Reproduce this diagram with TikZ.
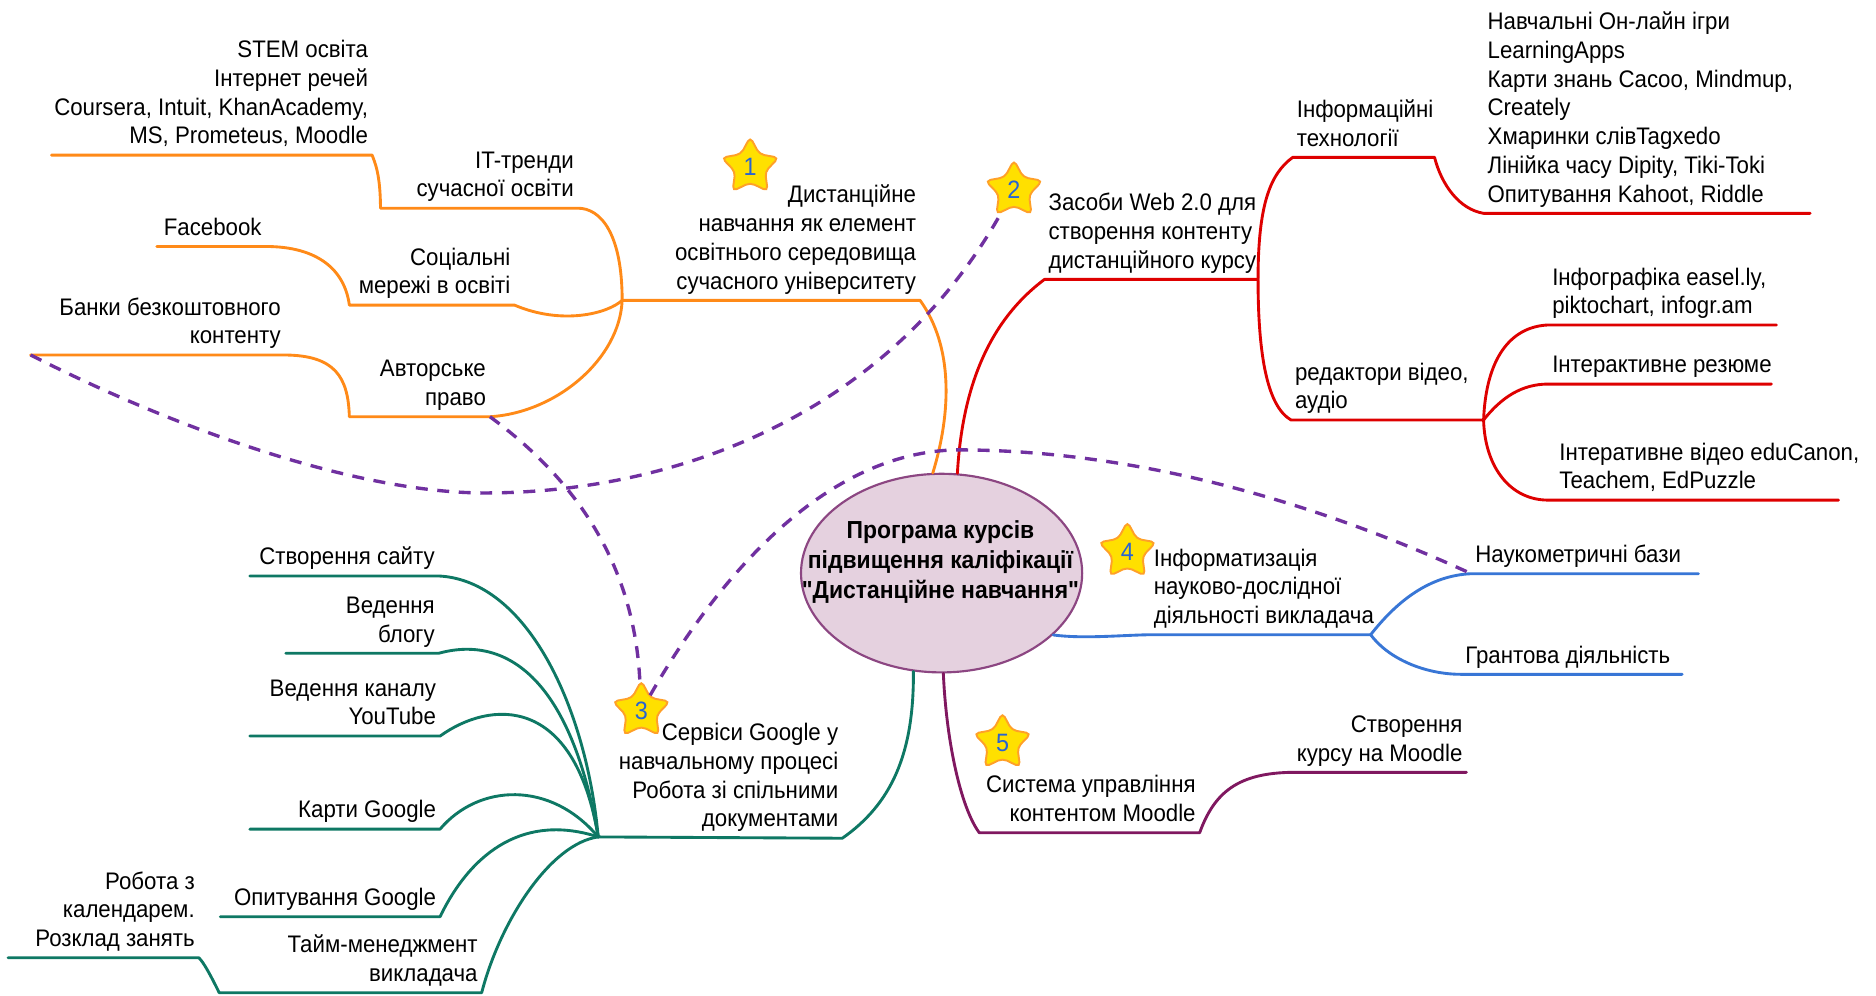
\documentclass[tikz,border=0pt]{standalone}
\usepackage{fontspec}
\setmainfont{Liberation Sans}[FakeStretch=0.93, Ligatures=TeXOff]
\usepackage{xcolor}
\usetikzlibrary{shapes.geometric, positioning, calc}

\definecolor{brOrange}{RGB}{255,138,24}
\definecolor{brRed}{RGB}{222,0,0}
\definecolor{brBlue}{RGB}{56,118,214}
\definecolor{brPlum}{RGB}{128,24,96}
\definecolor{brTeal}{RGB}{14,120,100}
\definecolor{linkViolet}{RGB}{112,48,160}
\definecolor{hubFill}{RGB}{229,209,223}
\definecolor{hubDraw}{RGB}{140,70,130}
\definecolor{starFill}{RGB}{255,224,0}
\definecolor{starDraw}{RGB}{255,160,40}
\definecolor{starNum}{RGB}{40,100,210}

\begin{document}
\begin{tikzpicture}[x=0.5pt, y=-0.5pt,
    lbl/.style={font=\fontsize{10}{12}\selectfont, inner xsep=1.5pt, inner ysep=2.5pt, text depth=2pt},
    lblR/.style={lbl, align=right},
    lblL/.style={lbl, align=left},
    branch/.style={line width=1.2pt, line cap=round, line join=round},
    obr/.style={branch, draw=brOrange},
    rbr/.style={branch, draw=brRed},
    bbr/.style={branch, draw=brBlue},
    pbr/.style={branch, draw=brPlum},
    tbr/.style={branch, draw=brTeal},
    link/.style={draw=linkViolet, line width=1.4pt, dash pattern=on 5pt off 4pt},
    hubnode/.style={ellipse, draw=hubDraw, fill=hubFill, line width=0.9pt, minimum width=117.5pt, minimum height=83pt, inner sep=0pt},
    hubtitle/.style={align=center, inner sep=0pt, font=\bfseries\fontsize{10.3}{12.5}\selectfont},
    starbox/.style={star, star points=5, star point ratio=1.9, minimum size=25pt, inner sep=0pt, fill=starFill, draw=starDraw, line width=0.8pt, rounded corners=2pt, text=starNum, font=\fontsize{10.5}{10.5}\selectfont}
]
    \fill[white] (0,0) rectangle (1568,832);
    \useasboundingbox (0,0) rectangle (1568,832);

    % Centre
    \node[hubnode] (ctr) at (787,479) {};
    \node[hubtitle] (ctrT) at (786,470) {Програма курсів\\підвищення каліфікації\\"Дистанційне навчання"};

    % Orange branch points
    \coordinate (o0) at (520,251);
    \coordinate (oM) at (769,251);
    \coordinate (o1s) at (318,174);
    \coordinate (o1e) at (483,174);
    \coordinate (o11s) at (43,129.6);
    \coordinate (o11e) at (311,129.6);
    \coordinate (o2s) at (292,255);
    \coordinate (o2e) at (430,255);
    \coordinate (ofbS) at (131,206);
    \coordinate (ofbE) at (222,206);
    \coordinate (o3s) at (292,348.3);
    \coordinate (o3e) at (409.5,348.3);
    \coordinate (obS) at (25.6,296.7);
    \coordinate (obE) at (238,296.7);

    % Red branch points
    \coordinate (r0s) at (873,233.5);
    \coordinate (r0) at (1051.5,233.5);
    \coordinate (r1s) at (1080.5,131.5);
    \coordinate (r1e) at (1199,131.5);
    \coordinate (r11s) at (1240,178.3);
    \coordinate (r11e) at (1513,178.3);
    \coordinate (r2s) at (1079,351);
    \coordinate (r2e) at (1240,351);
    \coordinate (r21s) at (1294,271.6);
    \coordinate (r21e) at (1484.7,271.6);
    \coordinate (r22s) at (1294,321);
    \coordinate (r22e) at (1480.6,321);
    \coordinate (r23s) at (1294,418);
    \coordinate (r23e) at (1536.6,418);

    % Blue branch points
    \coordinate (bT) at (961,530.5);
    \coordinate (b0) at (1145.6,530.5);
    \coordinate (b1s) at (1229.7,479.5);
    \coordinate (b1e) at (1419.6,479.5);
    \coordinate (b2s) at (1221.3,563.6);
    \coordinate (b2e) at (1406,563.6);

    % Plum branch points
    \coordinate (pS) at (818.5,696);
    \coordinate (pE) at (1002.7,696);
    \coordinate (p1s) at (1080.5,645.5);
    \coordinate (p1e) at (1225.7,645.5);

    % Teal branch points
    \coordinate (tE) at (704,700.6);
    \coordinate (t0) at (500,699.5);
    \coordinate (t1s) at (208.8,481.4);
    \coordinate (t1e) at (366.7,481.4);
    \coordinate (t2s) at (238.8,546);
    \coordinate (t2e) at (366.7,546);
    \coordinate (t3s) at (208.8,615.2);
    \coordinate (t3e) at (367.8,615.2);
    \coordinate (t4s) at (208.8,693);
    \coordinate (t4e) at (367.8,693);
    \coordinate (t5s) at (184.2,766.2);
    \coordinate (t5e) at (367.8,766.2);
    \coordinate (t6s) at (183.2,829.7);
    \coordinate (t6e) at (402.6,829.7);
    \coordinate (t7s) at (6.8,800.5);
    \coordinate (t7e) at (166.2,800.5);

    % Orange branch
    \draw[obr] (ctr.95) .. controls (795,345) and (797,290) .. (oM) -- (o0);
    \draw[obr] (o0) .. controls (520,195) and (502,174) .. (o1e) -- (o1s) .. controls (318,145) and (313,135) .. (o11e) -- (o11s);
    \draw[obr] (o0) .. controls (508,262) and (470,272) .. (o2e) -- (o2s) .. controls (288,225) and (265,206) .. (ofbE) -- (ofbS);
    \draw[obr] (o0) .. controls (518,300) and (465,345) .. (o3e) -- (o3s) .. controls (291,315) and (280,297) .. (obE) -- (obS);

    % Red branch
    \draw[rbr] (ctr.81) .. controls (805,310) and (835,262) .. (r0s) -- (r0);
    \draw[rbr] (r1e) -- (r1s) .. controls (1062,145) and (1051.5,170) .. (r0) .. controls (1051.5,300) and (1060,340) .. (r2s) -- (r2e);
    \draw[rbr] (r1e) .. controls (1205,155) and (1220,175) .. (r11s) -- (r11e);
    \draw[rbr] (r2e) .. controls (1242,300) and (1262,273) .. (r21s) -- (r21e);
    \draw[rbr] (r2e) .. controls (1255,332) and (1272,321) .. (r22s) -- (r22e);
    \draw[rbr] (r2e) .. controls (1241,390) and (1262,418) .. (r23s) -- (r23e);

    % Blue branch
    \draw[bbr] (ctr.-29) .. controls (905,534) and (935,531) .. (bT) -- (b0);
    \draw[bbr] (b0) .. controls (1168,502) and (1195,481) .. (b1s) -- (b1e);
    \draw[bbr] (b0) .. controls (1160,550) and (1190,563.6) .. (b2s) -- (b2e);

    % Plum branch
    \draw[pbr] (ctr.-89) .. controls (791,620) and (803,675) .. (pS) -- (pE) .. controls (1015,662) and (1035,646) .. (p1s) -- (p1e);

    % Teal branch
    \draw[tbr] (ctr.-106) .. controls (764,630) and (745,672) .. (tE) -- (t0);
    \draw[tbr] (t0) .. controls (490,590) and (440,485) .. (t1e) -- (t1s);
    \draw[tbr] (t0) .. controls (478,570) and (425,530) .. (t2e) -- (t2s);
    \draw[tbr] (t0) .. controls (480,580) and (410,585) .. (t3e) -- (t3s);
    \draw[tbr] (t0) .. controls (460,652) and (400,655) .. (t4e) -- (t4s);
    \draw[tbr] (t0) .. controls (440,680) and (395,710) .. (t5e) -- (t5s);
    \draw[tbr] (t0) .. controls (460,705) and (418,770) .. (t6e) -- (t6s) .. controls (176,815) and (170,804) .. (t7e) -- (t7s);

    % Stars
    \node[starbox] (s1) at (627,139.5) {1};
    \node[starbox] (s2) at (847.5,158.8) {2};
    \node[starbox] (s3) at (536,594) {3};
    \node[starbox] (s4) at (942.3,461) {4};
    \node[starbox] (s5) at (837.9,620.8) {5};

    % Links
    \draw[link] (obS) .. controls (150,360) and (300,412) .. (405,412) .. controls (560,412) and (740,350) .. (s2);
    \draw[link] (o3e) .. controls (480,400) and (530,470) .. (s3);
    \draw[link] (s3) .. controls (590,500) and (680,378) .. (800,376) .. controls (950,376) and (1100,420) .. (b1s);

    % Orange texts
    \node[lblR, above left=0pt of oM] (tDist) {Дистанційне\\навчання як елемент\\освітнього середовища\\сучасного університету};
    \node[lblR, above left=0pt of o1e] (tIT) {IT-тренди\\сучасної освіти};
    \node[lblR, above left=0pt of o11e] (tStem) {STEM освіта\\Інтернет речей\\Coursera, Intuit, KhanAcademy,\\MS, Prometeus, Moodle};
    \node[lblR, above left=0pt of o2e] (tSoc) {Соціальні\\мережі в освіті};
    \node[lblR, above left=0pt of ofbE] (tFb) {Facebook};
    \node[lblR, above left=0pt of o3e] (tCopy) {Авторське\\право};
    \node[lblR, above left=0pt of obE] (tBank) {Банки безкоштовного\\контенту};

    % Red texts
    \node[lblL, above right=0pt of r0s] (tWeb) {Засоби Web 2.0 для\\створення контенту\\дистанційного курсу};
    \node[lblL, above right=0pt of r1s] (tInfo) {Інформаційні\\технології};
    \node[lblL, above right=0pt of r11s] (tApps) {Навчальні Он-лайн ігри\\LearningApps\\Карти знань Cacoo, Mindmup,\\Creately\\Хмаринки слівTagxedo\\Лінійка часу Dipity, Tiki-Toki\\Опитування Kahoot, Riddle};
    \node[lblL, above right=0pt of r2s] (tEdit) {редактори відео,\\аудіо};
    \node[lblL, above right=0pt of r21s] (tInfog) {Інфографіка easel.ly,\\piktochart, infogr.am};
    \node[lblL, above right=0pt of r22s] (tResume) {Інтерактивне резюме};
    \node[lblL, above right=0pt and 3pt of r23s] (tVideo) {Інтеративне відео eduCanon,\\Teachem, EdPuzzle};

    % Blue texts
    \node[lblL, above right=0pt of bT] (tSci) {Інформатизація\\науково-дослідної\\діяльності викладача};
    \node[lblL, above right=0pt of b1s] (tScimet) {Наукометричні бази};
    \node[lblL, above right=0pt of b2s] (tGrant) {Грантова діяльність};

    % Plum texts
    \node[lblR, above left=0pt of pE] (tLms) {Система управління\\контентом Moodle};
    \node[lblR, above left=0pt of p1e] (tMoodle) {Створення\\курсу на Moodle};

    % Teal texts
    \node[lblR, above left=0pt of tE] (tGoogle) {Сервіси Google у\\навчальному процесі\\Робота зі спільними\\документами};
    \node[lblR, above left=0pt of t1e] (tSite) {Створення сайту};
    \node[lblR, above left=0pt of t2e] (tBlog) {Ведення\\блогу};
    \node[lblR, above left=0pt of t3e] (tYT) {Ведення каналу\\YouTube};
    \node[lblR, above left=0pt of t4e] (tMaps) {Карти Google};
    \node[lblR, above left=0pt of t5e] (tPoll) {Опитування Google};
    \node[lblR, above left=0pt of t6e] (tTime) {Тайм-менеджмент\\викладача};
    \node[lblR, above left=0pt of t7e] (tCal) {Робота з\\календарем.\\Розклад занять};
\end{tikzpicture}
\end{document}
